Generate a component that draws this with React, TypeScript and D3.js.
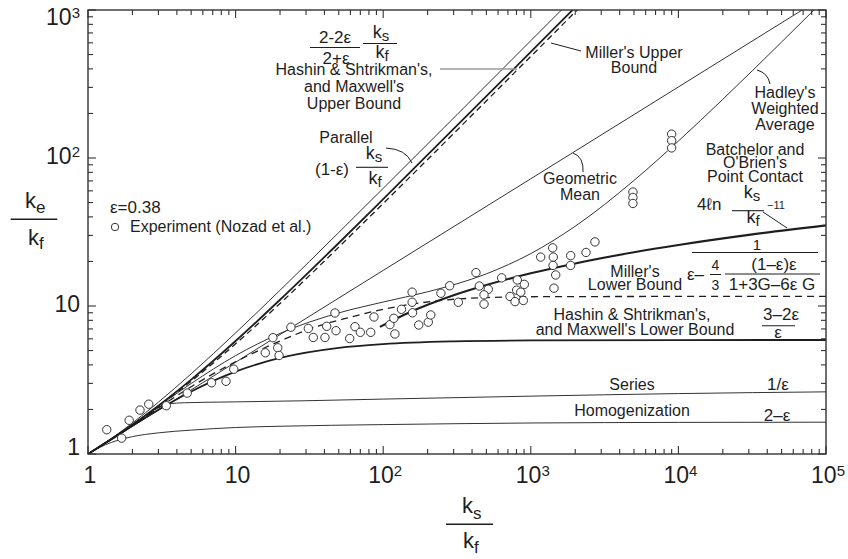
import React from "react";
import * as d3 from "d3";

// ---------------- data ----------------
const epsilonLabel = "ε=0.38";

const xDomain = [1, 1e5];
const yDomain = [1, 1000];

const xTickValues = [1, 10, 100, 1000, 10000, 100000];
const xTickBase = ["1", "10", "10", "10", "10", "10"];
const xTickSup = ["", "", "2", "3", "4", "5"];
const yTickValues = [1, 10, 100, 1000];
const yTickBase = ["1", "10", "10", "10"];
const yTickSup = ["", "", "2", "3"];

// Parallel (1-ε) ks/kf
const parallelK = [1, 1.5, 2, 3, 5, 10, 20, 50, 100, 1000, 2000];
const parallelV = [1, 1.31, 1.62, 2.24, 3.48, 6.58, 12.78, 31.38, 62.38, 620.4, 1240];
// Hashin & Shtrikman / Maxwell upper bound
const hsUpperK = [1, 1.5, 2, 3, 5, 10, 20, 50, 100, 1000, 2000];
const hsUpperV = [1, 1.296, 1.576, 2.119, 3.179, 5.8, 11.02, 26.65, 52.7, 521.6, 1042.6];
// Miller's upper bound (dashed)
const millerUpperK = [1, 2, 3, 5, 10, 20, 50, 100, 1000, 2200];
const millerUpperV = [1, 1.56, 2.08, 3.1, 5.55, 10.4, 25, 49.3, 486, 1067];
// Geometric mean
const geometricK = [1, 10, 100, 1000, 10000, 100000];
const geometricV = [1, 4.17, 17.4, 72.4, 302, 1259];
// Hadley's weighted average
const hadleyK = [1, 2, 3, 5, 10, 20, 50, 100, 200, 500, 1000, 2000, 5000, 10000, 20000, 50000, 100000];
const hadleyV = [1, 1.584, 2.104, 2.994, 4.62, 6.53, 8.98, 10.64, 12.47, 16.49, 22.6, 34.6, 70.5, 130.1, 249.4, 607, 1204];
// Batchelor and O'Brien point contact
const batchelorK = [95, 150, 200, 300, 500, 1000, 2000, 5000, 10000, 30000, 100000];
const batchelorV = [7.22, 9.04, 10.19, 11.82, 13.86, 16.63, 19.4, 23.07, 25.84, 30.24, 35.05];
// Miller's lower bound (dashed)
const millerLowerK = [1, 2, 3, 5, 10, 20, 36, 60, 100, 270, 500, 1000, 10000, 100000];
const millerLowerV = [1, 1.56, 2.05, 2.85, 4.2, 5.8, 7.3, 8.4, 9.5, 11.0, 11.4, 11.55, 11.6, 11.6];
// Hashin & Shtrikman / Maxwell lower bound
const hsLowerK = [1, 1.5, 2, 3, 5, 10, 20, 50, 100, 300, 1000, 10000, 100000];
const hsLowerV = [1, 1.29, 1.55, 1.989, 2.646, 3.607, 4.458, 5.216, 5.533, 5.77, 5.856, 5.889, 5.893];
// Series
const seriesK = [1, 1.5, 2, 2.5, 3, 3.5, 4.5, 10, 30, 100, 1000, 10000, 100000];
const seriesV = [1, 1.3, 1.58, 1.85, 2.06, 2.18, 2.22, 2.25, 2.29, 2.35, 2.46, 2.56, 2.63];
// Homogenization
const homogK = [1, 1.3, 1.6, 2, 3, 5, 10, 20, 100, 1000, 10000, 100000];
const homogV = [1, 1.15, 1.24, 1.31, 1.39, 1.45, 1.51, 1.54, 1.58, 1.62, 1.635, 1.64];

// Experiment (Nozad et al.)
const expK = [
  1.34, 1.69, 1.9, 2.25, 2.58, 3.39, 4.7, 6.87, 8.61, 9.72,
  15.9, 17.9, 19.3, 19.7, 23.7, 31.1, 33.6, 40.3, 41.4, 47.9,
  47.1, 59.3, 64.4, 70, 82.3, 86.6, 111, 120, 118, 133,
  157, 157, 158, 174, 202, 210, 246, 282, 323, 425,
  448, 515, 482, 482, 635, 723, 810, 802, 855, 904,
  782, 890, 1167, 1407, 1420, 1415, 1475, 1436, 1863, 1860,
  2366, 2720, 4920, 4920, 4920, 9000, 9000, 9000,
];
const expV = [
  1.46, 1.28, 1.69, 1.98, 2.17, 2.12, 2.58, 3.03, 3.1, 3.74,
  4.83, 6.11, 5.22, 4.63, 7.19, 7.05, 6.13, 6.13, 7.29, 6.81,
  8.97, 6.03, 7.25, 6.64, 6.64, 8.43, 7.48, 6.47, 8.26, 9.5,
  12.4, 10.6, 9.0, 7.44, 7.78, 8.7, 12.2, 13.7, 10.6, 16.8,
  13.65, 12.97, 11.9, 10.3, 15.5, 11.6, 15.0, 12.8, 12.4, 14.0,
  10.7, 10.9, 21.4, 24.7, 21.4, 18.8, 16.2, 13.2, 21.9, 18.8,
  23.0, 27.1, 58.9, 54.1, 49.3, 145, 131, 117,
];

// ---------------- drawing ----------------
const FONT = "'Liberation Sans', Arial, Helvetica, sans-serif";
const INK = "#1e1e1e";

export default function App() {
  const L = 88, R = 826, T = 10, B = 454;
  const x = d3.scaleLog().domain(xDomain).range([L, R]);
  const y = d3.scaleLog().domain(yDomain).range([B, T]);

  const path = (ks: number[], vs: number[]) =>
    d3
      .line<number>()
      .x((k) => x(k))
      .y((_, i) => y(vs[i]))
      .curve(d3.curveMonotoneX)(ks) || "";

  const curves = [
    { k: homogK, v: homogV, w: 1, dash: "", c: "#333" },
    { k: seriesK, v: seriesV, w: 1, dash: "", c: "#333" },
    { k: geometricK, v: geometricV, w: 1, dash: "", c: "#333" },
    { k: hadleyK, v: hadleyV, w: 1, dash: "", c: "#333" },
    { k: parallelK, v: parallelV, w: 1, dash: "", c: "#333" },
    { k: hsLowerK, v: hsLowerV, w: 1.8, dash: "", c: INK },
    { k: hsUpperK, v: hsUpperV, w: 1.8, dash: "", c: INK },
    { k: batchelorK, v: batchelorV, w: 2.1, dash: "", c: INK },
    { k: millerUpperK, v: millerUpperV, w: 1.3, dash: "6,4", c: INK },
    { k: millerLowerK, v: millerLowerV, w: 1.3, dash: "7,5", c: INK },
  ];

  const isMajor = (t: number) => Math.abs(Math.log10(t) - Math.round(Math.log10(t))) < 1e-9;
  const xt = x.ticks();
  const yt = y.ticks();

  const txt = (props: any, content: any) => (
    <text fontFamily={FONT} fill={INK} {...props}>
      {content}
    </text>
  );
  const sub = (s: string, size = 15, dy = 3) => (
    <tspan fontSize={size} dy={dy}>
      {s}
    </tspan>
  );

  return (
    <svg
      width={848}
      height={559}
      viewBox="0 0 848 559"
      style={{ position: "absolute", left: 0, top: 0, background: "#fff" }}
    >
      <defs>
        <clipPath id="plotClip">
          <rect x={L} y={T} width={R - L} height={B - T} />
        </clipPath>
      </defs>
      <rect x={0} y={0} width={848} height={559} fill="#fff" />

      {/* curves */}
      <g clipPath="url(#plotClip)" fill="none">
        {curves.map((c, i) => (
          <path key={i} d={path(c.k, c.v)} stroke={c.c} strokeWidth={c.w} strokeDasharray={c.dash || undefined} />
        ))}
      </g>

      {/* frame + ticks */}
      <rect x={L} y={T} width={R - L} height={B - T} fill="none" stroke="#333" strokeWidth={1.4} />
      <g stroke="#333" strokeWidth={1.1}>
        {xt.map((t, i) => {
          const len = isMajor(t) ? 8 : 5;
          const px = x(t);
          return (
            <g key={"x" + i}>
              <line x1={px} x2={px} y1={B} y2={B - len} />
              <line x1={px} x2={px} y1={T} y2={T + len} />
            </g>
          );
        })}
        {yt.map((t, i) => {
          const len = isMajor(t) ? 8 : 5;
          const py = y(t);
          return (
            <g key={"y" + i}>
              <line x1={L} x2={L + len} y1={py} y2={py} />
              <line x1={R} x2={R - len} y1={py} y2={py} />
            </g>
          );
        })}
      </g>

      {/* tick labels */}
      {xTickValues.map((v, i) =>
        txt(
          { key: "xl" + i, x: x(v) + 2, y: 483, fontSize: 23, textAnchor: "middle" },
          <>
            {xTickBase[i]}
            {xTickSup[i] ? (
              <tspan fontSize={15} dy={-7}>
                {xTickSup[i]}
              </tspan>
            ) : null}
          </>
        )
      )}
      {yTickValues.map((v, i) =>
        txt(
          { key: "yl" + i, x: 80, y: Math.min(455, Math.max(25, y(v) + 6)), fontSize: 23, textAnchor: "end" },
          <>
            {yTickBase[i]}
            {yTickSup[i] ? (
              <tspan fontSize={15} dy={-7}>
                {yTickSup[i]}
              </tspan>
            ) : null}
          </>
        )
      )}

      {/* axis titles */}
      {txt({ x: 25, y: 208, fontSize: 22 }, <>k{sub("e", 17, 5)}</>)}
      <line x1={10.7} x2={57.3} y1={219.3} y2={219.3} stroke={INK} strokeWidth={1.5} />
      {txt({ x: 28, y: 245, fontSize: 22 }, <>k{sub("f", 17, 4)}</>)}

      {txt({ x: 462, y: 513, fontSize: 22 }, <>k{sub("s", 17, 6)}</>)}
      <line x1={446} x2={493} y1={524.3} y2={524.3} stroke={INK} strokeWidth={1.5} />
      {txt({ x: 463, y: 548, fontSize: 22 }, <>k{sub("f", 17, 5)}</>)}

      {/* legend */}
      {txt({ x: 110, y: 213, fontSize: 17 }, epsilonLabel)}
      <circle cx={115} cy={227} r={3.7} fill="#fff" stroke="#333" strokeWidth={1} />
      {txt({ x: 130, y: 232, fontSize: 16 }, "Experiment (Nozad et al.)")}

      {/* HS upper formula + label */}
      {txt({ x: 335, y: 43, fontSize: 17, textAnchor: "middle" }, "2-2ε")}
      <line x1={310} x2={360} y1={47.5} y2={47.5} stroke={INK} strokeWidth={1.1} />
      {txt({ x: 336, y: 63.5, fontSize: 17, textAnchor: "middle" }, "2+ε")}
      {txt({ x: 381, y: 38, fontSize: 18, textAnchor: "middle" }, <>k{sub("s", 15, 3)}</>)}
      <line x1={363} x2={397} y1={43.5} y2={43.5} stroke={INK} strokeWidth={1.1} />
      {txt({ x: 382, y: 58, fontSize: 18, textAnchor: "middle" }, <>k{sub("f", 15, 3)}</>)}
      {txt({ x: 354, y: 75, fontSize: 16, textAnchor: "middle" }, "Hashin & Shtrikman's,")}
      {txt({ x: 354, y: 92, fontSize: 16, textAnchor: "middle" }, "and Maxwell's")}
      {txt({ x: 354, y: 109, fontSize: 16, textAnchor: "middle" }, "Upper Bound")}
      <line x1={440} x2={517} y1={69} y2={69} stroke="#999" strokeWidth={1.3} />

      {/* Parallel */}
      {txt({ x: 346, y: 143, fontSize: 16, textAnchor: "middle" }, "Parallel")}
      {txt({ x: 332, y: 175, fontSize: 17, textAnchor: "middle" }, "(1-ε)")}
      {txt({ x: 374, y: 159, fontSize: 18, textAnchor: "middle" }, <>k{sub("s", 15, 3)}</>)}
      <line x1={356} x2={388} y1={167.3} y2={167.3} stroke={INK} strokeWidth={1.1} />
      {txt({ x: 375, y: 184, fontSize: 18, textAnchor: "middle" }, <>k{sub("f", 15, 3)}</>)}
      <path d="M386,148 Q406,149 412,163" fill="none" stroke={INK} strokeWidth={1} />

      {/* Miller's upper bound */}
      {txt({ x: 634, y: 58, fontSize: 16, textAnchor: "middle" }, "Miller's Upper")}
      {txt({ x: 634, y: 73, fontSize: 16, textAnchor: "middle" }, "Bound")}
      <line x1={551} x2={581} y1={43} y2={51} stroke={INK} strokeWidth={1} />

      {/* Geometric mean */}
      {txt({ x: 580, y: 184, fontSize: 16, textAnchor: "middle" }, "Geometric")}
      {txt({ x: 580, y: 200, fontSize: 16, textAnchor: "middle" }, "Mean")}
      <path d="M573,153 Q584,157 583,172" fill="none" stroke={INK} strokeWidth={1} />

      {/* Hadley */}
      {txt({ x: 785, y: 98, fontSize: 16, textAnchor: "middle" }, "Hadley's")}
      {txt({ x: 785, y: 114, fontSize: 16, textAnchor: "middle" }, "Weighted")}
      {txt({ x: 785, y: 130, fontSize: 16, textAnchor: "middle" }, "Average")}
      <path d="M757,70 Q768,73 770,84" fill="none" stroke={INK} strokeWidth={1} />

      {/* Batchelor & O'Brien */}
      {txt({ x: 755, y: 155, fontSize: 16, textAnchor: "middle" }, "Batchelor and")}
      {txt({ x: 755, y: 168, fontSize: 16, textAnchor: "middle" }, "O'Brien's")}
      {txt({ x: 755, y: 181.5, fontSize: 16, textAnchor: "middle" }, "Point Contact")}
      {txt({ x: 697, y: 210, fontSize: 17 }, "4ℓn")}
      {txt({ x: 752, y: 198, fontSize: 18, textAnchor: "middle" }, <>k{sub("s", 15, 3)}</>)}
      <line x1={732} x2={764} y1={210.7} y2={210.7} stroke={INK} strokeWidth={1.1} />
      {txt({ x: 753, y: 223, fontSize: 18, textAnchor: "middle" }, <>k{sub("f", 15, 3)}</>)}
      {txt({ x: 767, y: 208.5, fontSize: 11 }, "−11")}
      <line x1={763} x2={787} y1={212} y2={228} stroke={INK} strokeWidth={1} />

      {/* Miller's lower bound formula */}
      {txt({ x: 757, y: 250, fontSize: 15, textAnchor: "middle" }, "1")}
      <line x1={692} x2={818} y1={252.5} y2={252.5} stroke={INK} strokeWidth={1.1} />
      {txt({ x: 687, y: 280, fontSize: 17 }, "ε–")}
      {txt({ x: 715.5, y: 270, fontSize: 14, textAnchor: "middle" }, "4")}
      <line x1={710} x2={721} y1={274.5} y2={274.5} stroke={INK} strokeWidth={1} />
      {txt({ x: 715.5, y: 290, fontSize: 14, textAnchor: "middle" }, "3")}
      {txt({ x: 774, y: 270, fontSize: 17, textAnchor: "middle" }, "(1–ε)ε")}
      <line x1={725} x2={820} y1={274} y2={274} stroke={INK} strokeWidth={1.1} />
      {txt({ x: 772, y: 290, fontSize: 17, textAnchor: "middle" }, "1+3G–6ε G")}
      {txt({ x: 635, y: 276.5, fontSize: 16, textAnchor: "middle" }, "Miller's")}
      {txt({ x: 635, y: 290, fontSize: 16, textAnchor: "middle" }, "Lower Bound")}

      {/* HS lower */}
      {txt({ x: 632, y: 320, fontSize: 16, textAnchor: "middle" }, "Hashin & Shtrikman's,")}
      {txt({ x: 635, y: 335, fontSize: 16, textAnchor: "middle" }, "and Maxwell's Lower Bound")}
      {txt({ x: 781, y: 320, fontSize: 17, textAnchor: "middle" }, "3–2ε")}
      <line x1={762} x2={795} y1={325.7} y2={325.7} stroke={INK} strokeWidth={1.1} />
      {txt({ x: 778, y: 338, fontSize: 17, textAnchor: "middle" }, "ε")}

      {/* Series & Homogenization */}
      {txt({ x: 632, y: 390, fontSize: 16, textAnchor: "middle" }, "Series")}
      {txt({ x: 778, y: 389.5, fontSize: 17, textAnchor: "middle" }, "1/ε")}
      {txt({ x: 632, y: 416, fontSize: 16, textAnchor: "middle" }, "Homogenization")}
      {txt({ x: 777, y: 421, fontSize: 17, textAnchor: "middle" }, "2–ε")}

      {/* experimental points */}
      <g>
        {expK.map((k, i) => (
          <circle key={"e" + i} cx={x(k)} cy={y(expV[i])} r={4.2} fill="#fff" stroke="#333" strokeWidth={1} />
        ))}
      </g>
    </svg>
  );
}
